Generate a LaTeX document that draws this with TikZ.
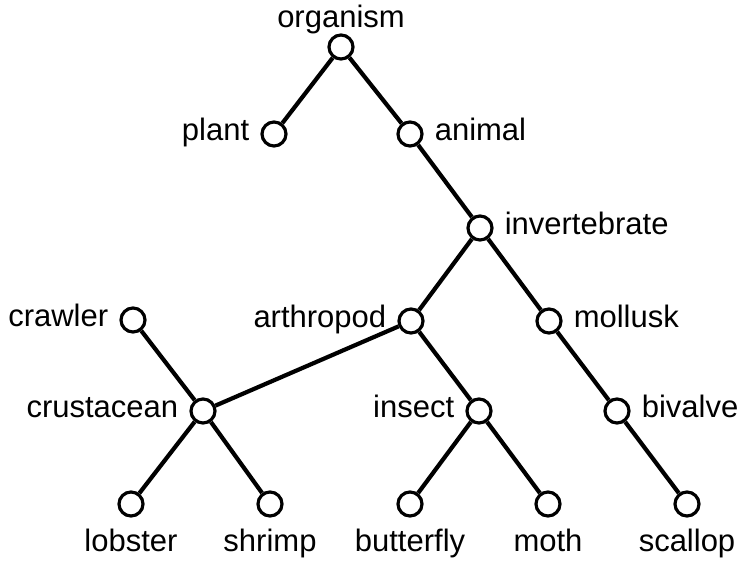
\documentclass[tikz,border=0pt]{standalone}
\usepackage{fontspec}
\setmainfont{Liberation Sans}
\begin{document}
\begin{tikzpicture}[x=1pt,y=-1pt,
  every label/.style={inner sep=0pt,font=\fontsize{31pt}{37pt}\selectfont},
  v/.style={circle,draw,line width=3.2pt,minimum size=24pt,inner sep=0pt,fill=white},
  e/.style={line width=4.2pt},
  lr/.style={label={[anchor=base west,yshift=-6pt,label distance=11pt]east:#1}},
  ll/.style={label={[anchor=base east,yshift=-6pt,label distance=11pt]west:#1}},
  la/.style={label={[anchor=base,label distance=6pt]north:#1}},
  lb/.style={label={[anchor=base,label distance=34pt]south:#1}}]
\useasboundingbox (0,0) rectangle (744,567);
\node[v,la=organism] (organism) at (341,47) {};
\node[v,ll=plant] (plant) at (274,134) {};
\node[v,lr=animal] (animal) at (410,134) {};
\node[v,lr=invertebrate] (invertebrate) at (480,228) {};
\node[v,ll=arthropod] (arthropod) at (411,321) {};
\node[v,lr=mollusk] (mollusk) at (549,321) {};
\node[v,ll=crawler] (crawler) at (133,320) {};
\node[v,ll=crustacean] (crustacean) at (203,411) {};
\node[v,ll=insect] (insect) at (479,411) {};
\node[v,lr=bivalve] (bivalve) at (617,411) {};
\node[v,lb=lobster] (lobster) at (131,504) {};
\node[v,lb=shrimp] (shrimp) at (270,504) {};
\node[v,lb=butterfly] (butterfly) at (410,504) {};
\node[v,lb=moth] (moth) at (548,504) {};
\node[v,lb=scallop] (scallop) at (687,504) {};
\draw[e] (organism) -- (plant);
\draw[e] (organism) -- (animal);
\draw[e] (animal) -- (invertebrate);
\draw[e] (invertebrate) -- (arthropod);
\draw[e] (invertebrate) -- (mollusk);
\draw[e] (mollusk) -- (bivalve);
\draw[e] (bivalve) -- (scallop);
\draw[e] (arthropod) -- (insect);
\draw[e] (arthropod) -- (crustacean);
\draw[e] (insect) -- (butterfly);
\draw[e] (insect) -- (moth);
\draw[e] (crawler) -- (crustacean);
\draw[e] (crustacean) -- (lobster);
\draw[e] (crustacean) -- (shrimp);
\end{tikzpicture}
\end{document}
